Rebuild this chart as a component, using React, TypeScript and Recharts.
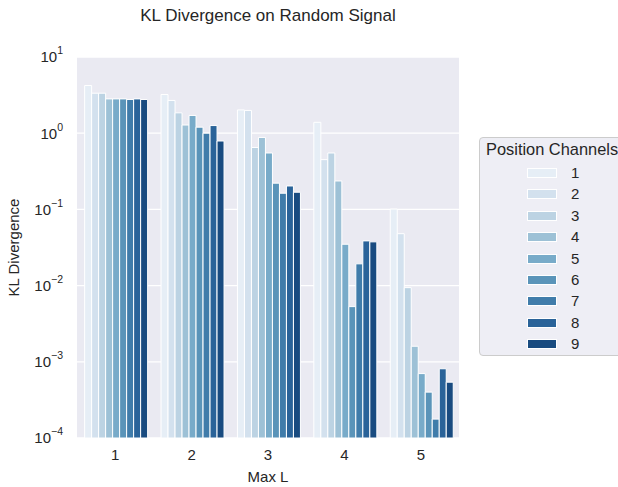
import React from 'react';
import { BarChart, Bar, XAxis, YAxis, CartesianGrid, Legend } from 'recharts';

const maxL = ['1', '2', '3', '4', '5'];
const ch1 = [4.23, 3.22, 2.02, 1.39, 0.101];
const ch2 = [3.35, 2.69, 1.99, 0.45, 0.048];
const ch3 = [3.35, 1.85, 0.65, 0.55, 0.0094];
const ch4 = [2.82, 1.28, 0.88, 0.236, 0.0016];
const ch5 = [2.82, 1.71, 0.55, 0.0349, 0.0007];
const ch6 = [2.82, 1.2, 0.221, 0.0053, 0.0004];
const ch7 = [2.77, 1.0, 0.163, 0.0193, 0.000177];
const ch8 = [2.82, 1.26, 0.203, 0.0386, 0.00081];
const ch9 = [2.77, 0.79, 0.168, 0.0375, 0.00054];
const channels = ['1', '2', '3', '4', '5', '6', '7', '8', '9'];
const yTicks = [1e-4, 1e-3, 1e-2, 1e-1, 1, 10];

const series = [ch1, ch2, ch3, ch4, ch5, ch6, ch7, ch8, ch9];
const colors = ['#e6eef6', '#d3e1ee', '#bcd3e3', '#9dc1d6', '#78abc9', '#5a94b9', '#407caa', '#2a6399', '#194b80'];

const data = maxL.map((l, i) => {
    const row: any = { maxL: l };
    series.forEach((s, j) => { row['c' + channels[j]] = s[i]; });
    return row;
});

const textColor = '#262626';

function LogTick({ x, y, payload }: any) {
    const exp = Math.round(Math.log10(payload.value));
    const expText = exp < 0 ? '\u2212' + Math.abs(exp) : String(exp);
    return (
        <text x={x} y={y} dy="0.36em" textAnchor="end" fill={textColor} fontSize={15}>
            10<tspan dy={-8} fontSize={10.5}>{expText}</tspan>
        </text>
    );
}

function ChannelLegend() {
    return (
        <div style={{
            position: 'relative', width: 160, height: 219, boxSizing: 'border-box',
            background: '#eeeef5', border: '1px solid #cccccc', borderRadius: 4,
            color: textColor, fontSize: 15,
        }}>
            <div style={{ position: 'absolute', left: 6, top: 2, fontSize: 16.4, whiteSpace: 'nowrap' }}>
                Position Channels
            </div>
            {channels.map((c, i) => (
                <div key={c} style={{ position: 'absolute', left: 0, top: 27 + i * 21.4, height: 16, width: 160 }}>
                    <div style={{
                        position: 'absolute', left: 47, top: 3, width: 30, height: 10,
                        background: colors[i], boxSizing: 'border-box', border: '1px solid #fff',
                    }} />
                    <div style={{ position: 'absolute', left: 91, top: -1, lineHeight: '17px' }}>{c}</div>
                </div>
            ))}
        </div>
    );
}

export default function App() {
    return (
        <div style={{
            position: 'absolute', left: 0, top: 0, width: 618, height: 487, overflow: 'hidden',
            background: '#ffffff', fontFamily: '"Liberation Sans", Arial, sans-serif',
        }}>
            <div style={{
                position: 'absolute', left: 77, width: 382, top: 6, textAlign: 'center',
                fontSize: 17, color: textColor,
            }}>
                KL Divergence on Random Signal
            </div>
            <BarChart
                width={618}
                height={487}
                data={data}
                margin={{ top: 57, right: 159, left: 0, bottom: 0 }}
                barCategoryGap="10%"
                barGap={0}
            >
                <CartesianGrid vertical={false} fill="#eaeaf2" stroke="#ffffff" strokeWidth={1.3} />
                <XAxis
                    dataKey="maxL"
                    axisLine={false}
                    tickLine={false}
                    tickSize={0}
                    tickMargin={11}
                    height={49}
                    tick={{ fill: textColor, fontSize: 15 }}
                    label={{ value: 'Max L', position: 'insideBottom', offset: 5, fill: textColor, fontSize: 15 }}
                />
                <YAxis
                    type="number"
                    scale="log"
                    domain={[1e-4, 10]}
                    ticks={yTicks}
                    allowDataOverflow
                    axisLine={false}
                    tickLine={false}
                    tickSize={0}
                    tickMargin={14}
                    width={77}
                    tick={<LogTick />}
                    label={{
                        value: 'KL Divergence', angle: -90, position: 'insideLeft', offset: 14,
                        fill: textColor, fontSize: 15, style: { textAnchor: 'middle' },
                    }}
                />
                <Legend
                    layout="vertical"
                    align="center"
                    verticalAlign="middle"
                    wrapperStyle={{ left: 479, top: 137, width: 160, height: 219 }}
                    content={<ChannelLegend />}
                />
                {channels.map((c, i) => (
                    <Bar
                        key={c}
                        dataKey={'c' + c}
                        name={c}
                        fill={colors[i]}
                        stroke="#ffffff"
                        strokeWidth={1}
                        isAnimationActive={false}
                    />
                ))}
            </BarChart>
        </div>
    );
}
